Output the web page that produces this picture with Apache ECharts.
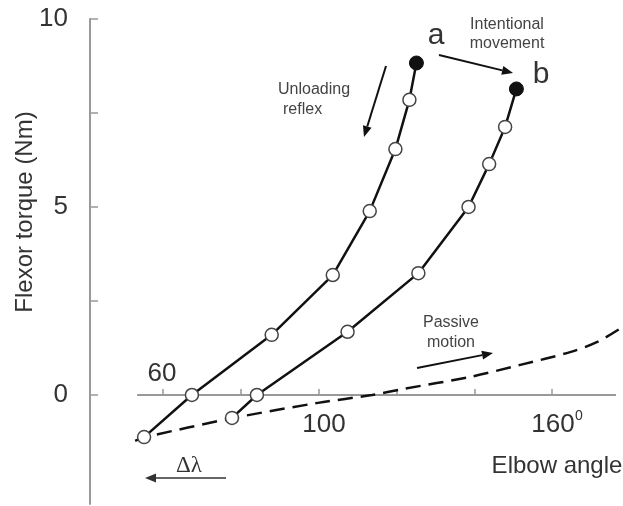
<!DOCTYPE html>
<html>
<head>
<meta charset="utf-8">
<script src="https://cdn.jsdelivr.net/npm/echarts@6/dist/echarts.min.js"></script>
<style>html,body{margin:0;padding:0;background:#fff;}#c{width:623px;height:506px;}</style>
</head>
<body>
<div id="c"></div>
<script>
// ---- data ----
const curveA_x = [55.1, 67.4, 87.9, 103.6, 113.1, 119.7, 123.3, 125.1];
const curveA_y = [-1.12, 0, 1.60, 3.19, 4.89, 6.54, 7.85, 8.83];
const curveB_x = [77.7, 84.1, 107.4, 125.6, 138.5, 143.8, 147.9, 150.8];
const curveB_y = [-0.61, 0, 1.68, 3.24, 5.00, 6.14, 7.13, 8.14];
const passive_x = [52.8, 55.1, 77.7, 99.8, 113.7, 121.7, 138.9, 151.8, 164.6, 171.6, 178.0];
const passive_y = [-1.22, -1.13, -0.62, -0.21, 0.0, 0.16, 0.48, 0.80, 1.14, 1.41, 1.80];
const xTicks = [60, 80, 100, 120, 140, 160];
const xTickLabels = ['60', '100', '160'];
const yTicks = [0, 2.5, 5, 7.5, 10];
const yLabels = [0, 5, 10];
const xAxisLineRange = [53.3, 176.4];

// ---- chart ----
const FONT = 'Liberation Sans, Arial, sans-serif';
const TXT = '#333';
const chart = echarts.init(document.getElementById('c'), null, {renderer: 'canvas'});

function pts(xs, ys) { return xs.map((x, i) => [x, ys[i]]); }
function curveData(xs, ys) {
  return pts(xs, ys).map((p, i) => i === xs.length - 1
    ? {value: p, symbolSize: 14, itemStyle: {color: '#111', borderColor: '#111', borderWidth: 1}}
    : {value: p});
}
const markerStyle = {color: '#fff', borderColor: '#444', borderWidth: 1.5};
const solidLine = {color: '#111', width: 2.5};

function arrow(x1, y1, x2, y2, color, w) {
  const ang = Math.atan2(y2 - y1, x2 - x1);
  const L = 11, H = 4.5;
  const bx = x2 - L * Math.cos(ang), by = y2 - L * Math.sin(ang);
  const nx = -Math.sin(ang), ny = Math.cos(ang);
  return [
    {type: 'line', shape: {x1: x1, y1: y1, x2: bx, y2: by}, style: {stroke: color, lineWidth: w}},
    {type: 'polygon', shape: {points: [[x2, y2], [bx + nx * H, by + ny * H], [bx - nx * H, by - ny * H]]}, style: {fill: color}}
  ];
}
function txt(x, y, s, size, opts) {
  return Object.assign({type: 'text', x: x, y: y,
    style: Object.assign({text: s, fontSize: size, fontFamily: FONT, fill: TXT, align: 'center', verticalAlign: 'middle'}, opts || {})});
}

const option = {
  animation: false,
  backgroundColor: '#fff',
  grid: {left: 90, right: 0, top: 19, bottom: 2, containLabel: false, outerBoundsMode: 'none'},
  xAxis: {
    type: 'value', min: 41.2, max: 178.2,
    axisLine: {show: false, onZero: true},
    splitLine: {show: false},
    axisTick: {show: true, inside: true, length: 6, customValues: xTicks, lineStyle: {color: '#999', width: 1.5}},
    axisLabel: {show: false}
  },
  yAxis: {
    type: 'value', min: -2.9, max: 10,
    axisLine: {show: true, onZero: false, lineStyle: {color: '#999', width: 2}},
    splitLine: {show: false},
    axisTick: {show: true, inside: true, length: 8, customValues: yTicks, lineStyle: {color: '#999', width: 1.5}},
    axisLabel: {show: true, customValues: yLabels, margin: 22, fontSize: 26, fontFamily: FONT, color: TXT}
  },
  series: [
    {
      type: 'line', data: pts(xAxisLineRange, [0, 0]), symbol: 'none',
      lineStyle: {color: '#999', width: 2}, z: 1, silent: true
    },
    {
      type: 'line', data: pts(passive_x, passive_y), symbol: 'none', smooth: 0.3,
      lineStyle: {color: '#111', width: 2.5, type: [15, 8]}, z: 2
    },
    {
      type: 'line', data: curveData(curveA_x, curveA_y), symbol: 'circle', symbolSize: 13,
      showAllSymbol: true, itemStyle: markerStyle, lineStyle: solidLine, z: 3
    },
    {
      type: 'line', data: curveData(curveB_x, curveB_y), symbol: 'circle', symbolSize: 13,
      showAllSymbol: true, itemStyle: markerStyle, lineStyle: solidLine, z: 3
    }
  ],
  graphic: {
    elements: [
      Object.assign(txt(25, 212, 'Flexor torque (Nm)', 24, {}), {rotation: Math.PI / 2}),
      txt(162, 374, xTickLabels[0], 26),
      txt(324, 425, xTickLabels[1], 26),
      txt(553, 425, xTickLabels[2], 26),
      txt(579, 416, '0', 14),
      txt(557, 466, 'Elbow angle', 24),
      txt(436, 36, 'a', 30),
      txt(541, 75, 'b', 30),
      txt(507, 25, 'Intentional', 16, {fill: '#444'}),
      txt(507, 44, 'movement', 16, {fill: '#444'}),
      txt(278, 90, 'Unloading', 16, {fill: '#444', align: 'left'}),
      txt(283, 110, 'reflex', 16, {fill: '#444', align: 'left'}),
      txt(451, 323, 'Passive', 16, {fill: '#444'}),
      txt(451, 343, 'motion', 16, {fill: '#444'}),
      txt(189, 466, 'Δλ', 23, {fontFamily: 'Liberation Serif, serif'})
    ].concat(
      arrow(386, 66, 364, 137, '#111', 2),
      arrow(439, 55, 513, 73, '#111', 2),
      arrow(417, 368, 493, 353, '#111', 2),
      arrow(226, 478, 145, 478, '#333', 1.5)
    )
  }
};
chart.setOption(option);
</script>
</body>
</html>
